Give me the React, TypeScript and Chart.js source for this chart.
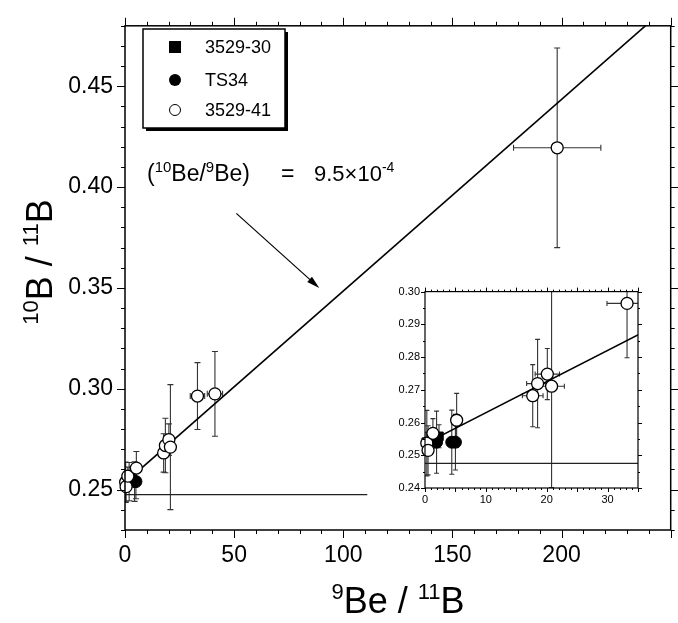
import React, { useEffect, useRef } from "react";
import { Chart, registerables } from "chart.js";

Chart.register(...registerables);

const FONT = '"Liberation Sans", Arial, Helvetica, sans-serif';

const seriesNames = ["3529-30", "TS34", "3529-41"];

// 3529-30 (filled squares)
const s30X = [0.2, 2.3];
const s30Y = [0.254, 0.2558];
const s30XErr = [0, 0];
const s30YErr = [0.003, 0.0035];

// TS34 (filled circles)
const ts34X = [1.9, 4.4, 5.0];
const ts34Y = [0.254, 0.254, 0.254];
const ts34XErr = [0, 0, 0];
const ts34YErr = [0.0095, 0.0098, 0.0085];

// 3529-41 (open circles)
const s41X = [0.3, 0.5, 1.3, 5.2, 17.7, 18.5, 20.1, 20.8, 33.2, 41.2, 198];
const s41Y = [0.2537, 0.2515, 0.2567, 0.2607, 0.2682, 0.2719, 0.2748, 0.2711, 0.2964, 0.2975, 0.4195];
const s41XErr = [0, 0, 0, 0, 1.7, 1.8, 2.0, 2.1, 3.3, 3.5, 20];
const s41YErr = [0.01, 0.0075, 0.0045, 0.0082, 0.0095, 0.0135, 0.0078, 0.031, 0.0166, 0.021, 0.0495];

// isochron fit: (10Be/9Be) = 9.5e-4
const fitSlope = 9.5e-4;
const fitIntercept = 0.2535;
const fitXRange = [0, 250];
const initialRatio = 0.2475;
const baseXMain = [0, 111];
const baseXInset = [0, 35];

const mainXTicks = [0, 50, 100, 150, 200];
const mainYTicks = [0.25, 0.3, 0.35, 0.4, 0.45];
const insetXTicks = [0, 10, 20, 30];
const insetYTicks = [0.24, 0.25, 0.26, 0.27, 0.28, 0.29, 0.3];

const arrowFrom = [51, 0.387];
const arrowTo = [89, 0.35];

type Part = { t: string; sup?: boolean };

function drawRich(ctx: CanvasRenderingContext2D, parts: Part[], x: number, y: number, size: number, supSize: number, raise: number, align: "left" | "center" = "left") {
  const widths = parts.map((p) => {
    ctx.font = `${p.sup ? supSize : size}px ${FONT}`;
    return ctx.measureText(p.t).width;
  });
  const total = widths.reduce((a, b) => a + b, 0);
  let cx = align === "center" ? x - total / 2 : x;
  ctx.textAlign = "left";
  ctx.textBaseline = "alphabetic";
  parts.forEach((p, i) => {
    ctx.font = `${p.sup ? supSize : size}px ${FONT}`;
    ctx.fillText(p.t, cx, p.sup ? y - raise : y);
    cx += widths[i];
  });
}

function buildSet(xs: number[], ys: number[], xe: number[], ye: number[], keep?: (x: number, y: number) => boolean) {
  const idx = xs.map((_, i) => i).filter((i) => !keep || keep(xs[i], ys[i]));
  return {
    data: idx.map((i) => ({ x: xs[i], y: ys[i] })),
    errX: idx.map((i) => xe[i]),
    errY: idx.map((i) => ye[i]),
  };
}

function makeDatasets(r: number, baseX: number[], keep?: (x: number, y: number) => boolean): any[] {
  const a = buildSet(s41X, s41Y, s41XErr, s41YErr, keep);
  const b = buildSet(ts34X, ts34Y, ts34XErr, ts34YErr, keep);
  const c = buildSet(s30X, s30Y, s30XErr, s30YErr, keep);
  return [
    { type: "scatter", label: seriesNames[2], ...a, pointStyle: "circle", pointRadius: r, pointBackgroundColor: "#fff", pointBorderColor: "#000", pointBorderWidth: 1.3, showLine: false, clip: false, order: 1 },
    { type: "scatter", label: seriesNames[1], ...b, pointStyle: "circle", pointRadius: r, pointBackgroundColor: "#000", pointBorderColor: "#000", pointBorderWidth: 1, showLine: false, clip: false, order: 2 },
    { type: "scatter", label: seriesNames[0], ...c, pointStyle: "rect", pointRadius: r, pointBackgroundColor: "#000", pointBorderColor: "#000", pointBorderWidth: 1, showLine: false, clip: false, order: 3 },
    { type: "line", label: "fit", data: fitXRange.map((x) => ({ x, y: fitIntercept + fitSlope * x })), borderColor: "#000", borderWidth: 1.6, pointRadius: 0, fill: false, order: 4 },
    { type: "line", label: "base", data: baseX.map((x) => ({ x, y: initialRatio })), borderColor: "#222", borderWidth: 1.2, pointRadius: 0, fill: false, order: 5 },
  ];
}

function errorBarPlugin(cap: number, color: string) {
  return {
    id: "errbars",
    beforeDatasetsDraw(chart: any) {
      const { ctx, chartArea: a } = chart;
      const xs = chart.scales.x;
      const ys = chart.scales.y;
      ctx.save();
      ctx.beginPath();
      ctx.rect(a.left, a.top, a.right - a.left, a.bottom - a.top);
      ctx.clip();
      ctx.strokeStyle = color;
      ctx.lineWidth = 1.1;
      const seg = (x1: number, y1: number, x2: number, y2: number) => {
        ctx.beginPath();
        ctx.moveTo(x1, y1);
        ctx.lineTo(x2, y2);
        ctx.stroke();
      };
      chart.data.datasets.forEach((ds: any) => {
        if (!ds.errY) return;
        ds.data.forEach((p: any, i: number) => {
          const px = xs.getPixelForValue(p.x);
          const py = ys.getPixelForValue(p.y);
          const ey = ds.errY[i];
          const ex = ds.errX[i];
          if (ey > 0) {
            const y1 = ys.getPixelForValue(p.y + ey);
            const y2 = ys.getPixelForValue(p.y - ey);
            seg(px, y1, px, y2);
            seg(px - cap, y1, px + cap, y1);
            seg(px - cap, y2, px + cap, y2);
          }
          if (ex > 0) {
            const x1 = xs.getPixelForValue(p.x - ex);
            const x2 = xs.getPixelForValue(p.x + ex);
            seg(x1, py, x2, py);
            seg(x1, py - cap, x1, py + cap);
            seg(x2, py - cap, x2, py + cap);
          }
        });
      });
      ctx.restore();
    },
  };
}

function framePlugin(cfg: { lw: number; xMajor: number; xMinor: number; yMajor: number; yMinor: number; major: number; minor: number }) {
  return {
    id: "frame",
    afterDatasetsDraw(chart: any) {
      const { ctx, chartArea: a } = chart;
      const xs = chart.scales.x;
      const ys = chart.scales.y;
      ctx.save();
      ctx.strokeStyle = "#000";
      ctx.lineWidth = cfg.lw;
      ctx.strokeRect(a.left, a.top, a.right - a.left, a.bottom - a.top);
      ctx.lineWidth = 1;
      const seg = (x1: number, y1: number, x2: number, y2: number) => {
        ctx.beginPath();
        ctx.moveTo(x1, y1);
        ctx.lineTo(x2, y2);
        ctx.stroke();
      };
      const nx = Math.round((xs.max - xs.min) / cfg.xMinor);
      for (let i = 0; i <= nx; i++) {
        const v = xs.min + i * cfg.xMinor;
        const r = v / cfg.xMajor;
        const len = Math.abs(r - Math.round(r)) < 1e-6 ? cfg.major : cfg.minor;
        const px = Math.round(xs.getPixelForValue(v)) + 0.5;
        seg(px, a.bottom, px, a.bottom + len);
        seg(px, a.top, px, a.top - len);
      }
      const ny = Math.round((ys.max - ys.min) / cfg.yMinor);
      for (let i = 0; i <= ny; i++) {
        const v = ys.min + i * cfg.yMinor;
        const r = v / cfg.yMajor;
        const len = Math.abs(r - Math.round(r)) < 1e-6 ? cfg.major : cfg.minor;
        const py = Math.round(ys.getPixelForValue(v)) + 0.5;
        seg(a.left - len, py, a.left, py);
        seg(a.right, py, a.right + len, py);
      }
      ctx.restore();
    },
  };
}

const mainDecorPlugin = {
  id: "mainDecor",
  afterDraw(chart: any) {
    const { ctx } = chart;
    const xs = chart.scales.x;
    const ys = chart.scales.y;
    ctx.save();
    ctx.fillStyle = "#000";
    ctx.strokeStyle = "#000";

    // axis titles
    drawRich(ctx, [{ t: "9", sup: true }, { t: "Be / " }, { t: "11", sup: true }, { t: "B" }], 398, 613, 36, 22, 14, "center");
    ctx.save();
    ctx.translate(52, 262);
    ctx.rotate(-Math.PI / 2);
    drawRich(ctx, [{ t: "10", sup: true }, { t: "B / " }, { t: "11", sup: true }, { t: "B" }], 0, 0, 36, 22, 14, "center");
    ctx.restore();

    // legend
    const lx = 143, ly = 29, lw = 142, lh = 99;
    ctx.fillStyle = "#000";
    ctx.fillRect(lx + 3, ly + 3, lw, lh);
    ctx.fillStyle = "#fff";
    ctx.fillRect(lx, ly, lw, lh);
    ctx.lineWidth = 1.5;
    ctx.strokeRect(lx, ly, lw, lh);
    const rows = [47, 80, 110];
    ctx.fillStyle = "#000";
    ctx.fillRect(175 - 6, rows[0] - 6, 12, 12);
    ctx.beginPath();
    ctx.arc(175, rows[1], 6, 0, Math.PI * 2);
    ctx.fill();
    ctx.beginPath();
    ctx.arc(175, rows[2], 5.5, 0, Math.PI * 2);
    ctx.fillStyle = "#fff";
    ctx.fill();
    ctx.lineWidth = 1;
    ctx.stroke();
    ctx.fillStyle = "#000";
    ctx.font = `18px ${FONT}`;
    ctx.textAlign = "left";
    ctx.textBaseline = "middle";
    seriesNames.forEach((n, i) => ctx.fillText(n, 205, rows[i] + 1));

    // annotation
    drawRich(ctx, [{ t: "(" }, { t: "10", sup: true }, { t: "Be/" }, { t: "9", sup: true }, { t: "Be)" }], 147, 181, 23, 15, 9);
    drawRich(ctx, [{ t: "=" }], 281, 181, 23, 15, 9);
    drawRich(ctx, [{ t: "9.5×10" }, { t: "-4", sup: true }], 314, 181, 22, 14, 9);

    // arrow
    const x1 = xs.getPixelForValue(arrowFrom[0]);
    const y1 = ys.getPixelForValue(arrowFrom[1]);
    const x2 = xs.getPixelForValue(arrowTo[0]);
    const y2 = ys.getPixelForValue(arrowTo[1]);
    const ang = Math.atan2(y2 - y1, x2 - x1);
    ctx.lineWidth = 1.2;
    ctx.beginPath();
    ctx.moveTo(x1, y1);
    ctx.lineTo(x2 - 8 * Math.cos(ang), y2 - 8 * Math.sin(ang));
    ctx.stroke();
    ctx.beginPath();
    ctx.moveTo(x2, y2);
    ctx.lineTo(x2 - 13 * Math.cos(ang) + 3.5 * Math.sin(ang), y2 - 13 * Math.sin(ang) - 3.5 * Math.cos(ang));
    ctx.lineTo(x2 - 13 * Math.cos(ang) - 3.5 * Math.sin(ang), y2 - 13 * Math.sin(ang) + 3.5 * Math.cos(ang));
    ctx.closePath();
    ctx.fill();
    ctx.restore();
  },
};

const insetBgPlugin = {
  id: "insetBg",
  beforeDatasetsDraw(chart: any) {
    const { ctx, chartArea: a } = chart;
    ctx.save();
    ctx.fillStyle = "#fff";
    ctx.fillRect(a.left, a.top, a.right - a.left, a.bottom - a.top);
    ctx.restore();
  },
};

export default function App() {
  const mainRef = useRef<HTMLCanvasElement>(null);
  const insetRef = useRef<HTMLCanvasElement>(null);

  useEffect(() => {
    const main = new Chart(mainRef.current as HTMLCanvasElement, {
      type: "scatter",
      data: { datasets: makeDatasets(6, baseXMain) },
      options: {
        animation: false,
        responsive: false,
        devicePixelRatio: 1,
        layout: { padding: { top: 18, right: 6, left: 0, bottom: 0 } },
        plugins: { legend: { display: false }, tooltip: { enabled: false } },
        scales: {
          x: {
            type: "linear",
            min: 0,
            max: 250,
            grid: { display: false, drawTicks: false },
            border: { display: false },
            afterBuildTicks: (s: any) => {
              s.ticks = mainXTicks.map((v) => ({ value: v }));
            },
            afterFit: (s: any) => {
              s.height = 93;
            },
            ticks: { autoSkip: false, maxRotation: 0, padding: 12, color: "#000", font: { family: FONT, size: 23 }, callback: (v: any) => String(v) },
          },
          y: {
            type: "linear",
            min: 0.23,
            max: 0.48,
            grid: { display: false, drawTicks: false },
            border: { display: false },
            afterBuildTicks: (s: any) => {
              s.ticks = mainYTicks.map((v) => ({ value: v }));
            },
            afterFit: (s: any) => {
              s.width = 125;
            },
            ticks: { autoSkip: false, padding: 12, color: "#000", font: { family: FONT, size: 23 }, callback: (v: any) => Number(v).toFixed(2) },
          },
        },
      } as any,
      plugins: [errorBarPlugin(3, "#333"), framePlugin({ lw: 1.5, xMajor: 50, xMinor: 10, yMajor: 0.05, yMinor: 0.01, major: 8, minor: 4 }), mainDecorPlugin],
    });

    const inset = new Chart(insetRef.current as HTMLCanvasElement, {
      type: "scatter",
      data: { datasets: makeDatasets(6, baseXInset, (x, y) => x <= 35 && y <= 0.3) },
      options: {
        animation: false,
        responsive: false,
        devicePixelRatio: 1,
        layout: { padding: { top: 11, right: 12, left: 0, bottom: 0 } },
        plugins: { legend: { display: false }, tooltip: { enabled: false } },
        scales: {
          x: {
            type: "linear",
            min: 0,
            max: 35,
            grid: { display: false, drawTicks: false },
            border: { display: false },
            afterBuildTicks: (s: any) => {
              s.ticks = insetXTicks.map((v) => ({ value: v }));
            },
            afterFit: (s: any) => {
              s.height = 22;
            },
            ticks: { autoSkip: false, maxRotation: 0, padding: 5, color: "#000", font: { family: FONT, size: 11 }, callback: (v: any) => String(v) },
          },
          y: {
            type: "linear",
            min: 0.24,
            max: 0.3,
            grid: { display: false, drawTicks: false },
            border: { display: false },
            afterBuildTicks: (s: any) => {
              s.ticks = insetYTicks.map((v) => ({ value: v }));
            },
            afterFit: (s: any) => {
              s.width = 45;
            },
            ticks: { autoSkip: false, padding: 5, color: "#000", font: { family: FONT, size: 11 }, callback: (v: any) => Number(v).toFixed(2) },
          },
        },
      } as any,
      plugins: [insetBgPlugin, errorBarPlugin(2.5, "#333"), framePlugin({ lw: 1.2, xMajor: 5, xMinor: 1, yMajor: 0.01, yMinor: 0.005, major: 4, minor: 2 })],
    });

    return () => {
      main.destroy();
      inset.destroy();
    };
  }, []);

  return (
    <div style={{ position: "fixed", left: 0, top: 0, width: 678, height: 623, background: "#fff" }}>
      <canvas ref={mainRef} width={678} height={623} style={{ position: "absolute", left: 0, top: 0, width: 678, height: 623 }} />
      <canvas ref={insetRef} width={270} height={230} style={{ position: "absolute", left: 380, top: 280, width: 270, height: 230 }} />
    </div>
  );
}
